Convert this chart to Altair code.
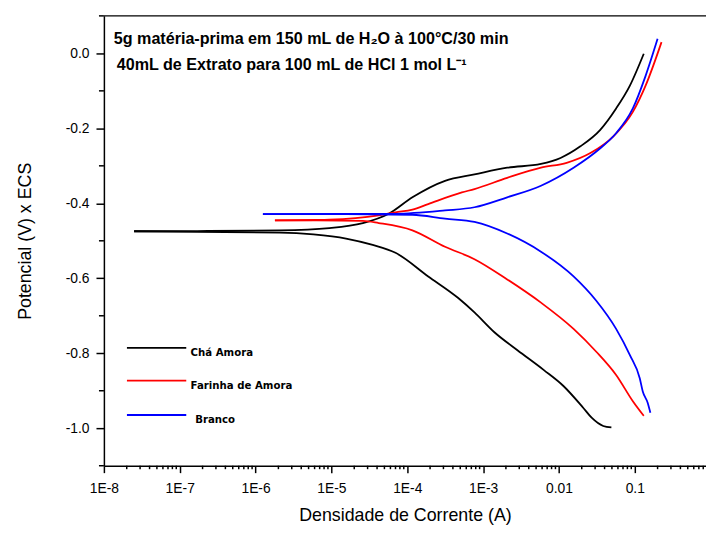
import altair as alt
import pandas as pd

# ---------------- data ----------------
series_names = ["Chá Amora", "Farinha de Amora", "Branco"]
series_colors = ["#000000", "#ff0000", "#0000ff"]

# Chá Amora
cha_cat_E = [-0.998, -0.994, -0.972, -0.946, -0.888, -0.845, -0.792, -0.744, -0.691,
             -0.652, -0.595, -0.532, -0.511, -0.494, -0.483, -0.478, -0.476, -0.4745]
cha_cat_I = [0.0492, 0.0384, 0.0270, 0.0210, 0.01156, 0.00634, 0.00284, 0.00141, 7.7e-4,
             4.66e-4, 1.89e-4, 7.0e-5, 3.5e-5, 1.56e-5, 5.8e-6, 2.1e-6, 1.7e-7, 2.5e-8]
cha_an_E = [-0.4745, -0.474, -0.472, -0.466, -0.453, -0.428, -0.384, -0.340, -0.323,
            -0.305, -0.295, -0.279, -0.248, -0.204, -0.147, -0.086, -0.001]
cha_an_I = [2.5e-8, 1.7e-7, 2.1e-6, 9.4e-6, 2.6e-5, 5.7e-5, 1.17e-4, 3.15e-4, 7.7e-4,
            2.08e-3, 5.8e-3, 0.0105, 0.0192, 0.0351, 0.0568, 0.0863, 0.1315]

# Farinha de Amora
far_cat_E = [-0.967, -0.928, -0.858, -0.796, -0.735, -0.665, -0.603, -0.549, -0.516,
             -0.472, -0.4526, -0.447, -0.4455, -0.4455]
far_cat_I = [0.1315, 0.0944, 0.0568, 0.0311, 0.0156, 0.0058, 0.00208, 7.7e-4, 3.15e-4,
             1.17e-4, 4.2e-5, 2.6e-5, 6.4e-6, 1.8e-6]
far_an_E = [-0.4455, -0.4445, -0.4437, -0.432, -0.424, -0.417, -0.402, -0.371, -0.362,
            -0.332, -0.305, -0.292, -0.266, -0.222, -0.156, -0.086, 0.030]
far_an_I = [1.8e-6, 6.4e-6, 9.4e-6, 4.2e-5, 7.0e-5, 1.17e-4, 1.89e-4, 5.25e-4, 7.7e-4,
            2.08e-3, 5.8e-3, 0.01265, 0.026, 0.0518, 0.0944, 0.139, 0.2254]

# Branco
bra_cat_E = [-0.9587, -0.932, -0.902, -0.8666, -0.805, -0.735, -0.660, -0.595, -0.529,
             -0.4805, -0.4495, -0.441, -0.4305, -0.429, -0.429]
bra_cat_I = [0.1607, 0.148, 0.1276, 0.1164, 0.0863, 0.0568, 0.0311, 0.0156, 0.0058,
             0.00208, 7.7e-4, 3.15e-4, 1.17e-4, 1.56e-5, 1.25e-6]
bra_an_E = [-0.429, -0.4284, -0.428, -0.419, -0.4105, -0.384, -0.353, -0.305, -0.253,
            -0.213, -0.147, -0.060, 0.0387]
bra_an_I = [1.25e-6, 1.56e-5, 7.0e-5, 3.15e-4, 7.7e-4, 2.08e-3, 5.8e-3, 0.0156, 0.0351,
            0.0568, 0.0944, 0.139, 0.200]

x_major = [1e-8, 1e-7, 1e-6, 1e-5, 1e-4, 1e-3, 0.01, 0.1]
y_major = [0.0, -0.2, -0.4, -0.6, -0.8, -1.0]
y_minor = [0.1, -0.1, -0.3, -0.5, -0.7, -0.9, -1.1]
x_max = 0.87
x_minor = [m * d for d in x_major for m in range(2, 10) if m * d <= x_max]

annot_1 = "5g matéria-prima em 150 mL de H₂O à 100°C/30 min"
annot_2 = "40mL de Extrato para 100 mL de HCl 1 mol L⁻¹"

# ---------------- table ----------------
rows = []
for name, branches in [
    ("Chá Amora", [("cat", cha_cat_I, cha_cat_E), ("an", cha_an_I, cha_an_E)]),
    ("Farinha de Amora", [("cat", far_cat_I, far_cat_E), ("an", far_an_I, far_an_E)]),
    ("Branco", [("cat", bra_cat_I, bra_cat_E), ("an", bra_an_I, bra_an_E)]),
]:
    for br, Is, Es in branches:
        for i, e in zip(Is, Es):
            rows.append({"serie": name, "ramo": br, "I": i, "E": e})
df = pd.DataFrame(rows)

W, H = 609, 455
FONT = "Liberation Sans"

xscale = alt.Scale(type="log", domain=[1e-8, x_max], nice=False)
yscale = alt.Scale(domain=[-1.1, 0.1], nice=False, zero=False)

x_label_expr = ("round(log(datum.value)/LN10) >= -2 ? "
                "(round(log(datum.value)/LN10) == -2 ? '0.01' : '0.1') : "
                "'1E' + round(log(datum.value)/LN10)")
y_label_expr = "(datum.value < -0.001 ? '-' : '') + format(abs(datum.value), '.1f')"

common_axis = dict(grid=False, domainColor="black", domainWidth=1.5, tickColor="black",
                   tickWidth=1.5, labelColor="black", labelFont=FONT, labelFontSize=14,
                   titleFont=FONT, titleFontSize=18, titleFontWeight="normal",
                   titleColor="black", labelFlush=False, labelOverlap=False)

x_axis = alt.Axis(values=x_major, labelExpr=x_label_expr, tickSize=7, labelPadding=9,
                  title="Densidade de Corrente (A)", titlePadding=11, **common_axis)
y_axis = alt.Axis(values=y_major, labelExpr=y_label_expr, tickSize=8, labelPadding=7,
                  title="Potencial (V) x ECS", titlePadding=31, **common_axis)

lines = alt.Chart(df).mark_line(strokeWidth=1.8, interpolate="monotone").encode(
    x=alt.X("I:Q", scale=xscale, axis=x_axis),
    y=alt.Y("E:Q", scale=yscale, axis=y_axis),
    color=alt.Color("serie:N", scale=alt.Scale(domain=series_names, range=series_colors),
                    legend=None),
    detail="ramo:N",
    order=alt.Order("I:Q"),
)

xminor = alt.Chart(pd.DataFrame({"I": x_minor})).mark_rule(color="black", strokeWidth=1.5).encode(
    x=alt.X("I:Q", scale=xscale, axis=x_axis),
    y=alt.value(H), y2=alt.value(H + 3.5),
)
yminor = alt.Chart(pd.DataFrame({"E": y_minor})).mark_rule(color="black", strokeWidth=1.5).encode(
    y=alt.Y("E:Q", scale=yscale, axis=y_axis),
    x=alt.value(0), x2=alt.value(-5),
)
top_border = alt.Chart(pd.DataFrame({"a": [0]})).mark_rule(color="black", strokeWidth=1.5).encode(
    x=alt.value(0), x2=alt.value(W), y=alt.value(0),
)

t1 = alt.Chart(pd.DataFrame({"t": [annot_1]})).mark_text(
    align="left", baseline="alphabetic", font=FONT, fontSize=16.3, fontWeight="bold",
    color="black").encode(text="t:N", x=alt.value(10), y=alt.value(28))
t2 = alt.Chart(pd.DataFrame({"t": [annot_2]})).mark_text(
    align="left", baseline="alphabetic", font=FONT, fontSize=16.3, fontWeight="bold",
    color="black").encode(text="t:N", x=alt.value(13), y=alt.value(55))

legend_layers = []
leg_line_y = [335.7, 369, 403.7]
leg_text_x = [87.7, 87.7, 92.3]
for name, col, ly, tx in zip(series_names, series_colors, leg_line_y, leg_text_x):
    legend_layers.append(
        alt.Chart(pd.DataFrame({"s": [name]})).mark_rule(color=col, strokeWidth=1.8).encode(
            x=alt.value(23.3), x2=alt.value(83.3), y=alt.value(ly)))
    legend_layers.append(
        alt.Chart(pd.DataFrame({"s": [name]})).mark_text(
            align="left", baseline="alphabetic", font="DejaVu Sans", fontSize=10.3,
            fontWeight="bold", color="black").encode(
            text="s:N", x=alt.value(tx), y=alt.value(ly + 8.5)))

chart = alt.layer(lines, xminor, yminor, top_border, t1, t2, *legend_layers).properties(
    width=W, height=H,
    padding={"left": 97, "top": 5, "right": 0, "bottom": 58},
    autosize=alt.AutoSizeParams(type="none"),
).configure_view(stroke=None)

chart.save("out.html", embed_options={"renderer": "svg", "actions": False})
